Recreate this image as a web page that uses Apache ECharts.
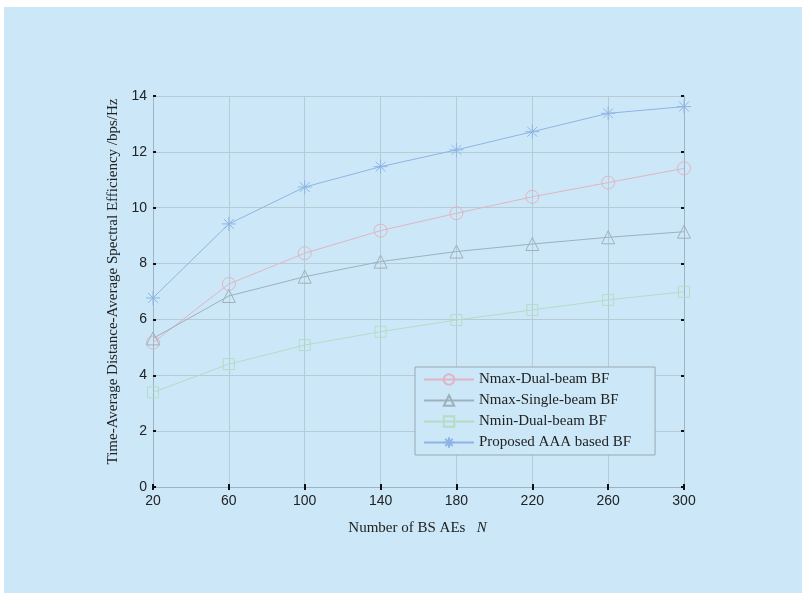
<!DOCTYPE html>
<html><head><meta charset="utf-8">
<script src="https://cdn.jsdelivr.net/npm/echarts@6/dist/echarts.min.js"></script>
<style>html,body{margin:0;padding:0;background:#fff}#c{width:802px;height:593px}</style>
</head><body><div id="c"></div>
<script>
var categories = ['20','60','100','140','180','220','260','300'];
var yTicks = [0,2,4,6,8,10,12,14];
var nmaxDual = [5.17, 7.27, 8.37, 9.18, 9.80, 10.39, 10.90, 11.41];
var nmaxSingle = [5.32, 6.84, 7.53, 8.07, 8.43, 8.70, 8.94, 9.14];
var nminDual = [3.39, 4.40, 5.08, 5.56, 5.98, 6.34, 6.70, 6.99];
var proposed = [6.77, 9.42, 10.74, 11.47, 12.07, 12.72, 13.38, 13.62];
var seriesNames = ['Nmax-Dual-beam BF','Nmax-Single-beam BF','Nmin-Dual-beam BF','Proposed AAA based BF'];

var bg = '#cce8f8';
var star = 'path://M0,-6L0,6M-6,0L6,0M-4.2,-4.2L4.2,4.2M-4.2,4.2L4.2,-4.2';
function mk(name, data, color, symbol, size){
  return {name:name, type:'line', data:data, symbol:symbol, symbolSize:size,
    showAllSymbol:true,
    lineStyle:{color:color, width:1},
    itemStyle:{color:'rgba(0,0,0,0)', borderColor:color, borderWidth:1},
    emphasis:{disabled:true}, animation:false, z:3};
}
var chart = echarts.init(document.getElementById('c'));
var tickStyle = {show:true, inside:true, length:3, lineStyle:{color:'#111', width:2}};
chart.setOption({
  backgroundColor:'#ffffff',
  animation:false,
  graphic:[{type:'rect', shape:{x:4, y:7, width:798, height:586}, style:{fill:bg}, z:-10, silent:true}],
  grid:{left:153, right:118, top:96, bottom:106, show:false},
  legend:{
    data:seriesNames, orient:'vertical', left:415, top:367,
    padding:[5,24,5,8], itemGap:6, itemWidth:50, itemHeight:13,
    backgroundColor:bg, borderColor:'#9aa8b0', borderWidth:1,
    textStyle:{fontFamily:'Liberation Serif', fontSize:15, color:'#222'}
  },
  xAxis:[{
    type:'category', data:categories, boundaryGap:false,
    axisLine:{show:true, lineStyle:{color:'#9fb4c0', width:1}},
    axisTick:tickStyle,
    axisLabel:{color:'#222', fontFamily:'Liberation Sans', fontSize:14, margin:7},
    splitLine:{show:true, lineStyle:{color:'#b5cbd6', width:1}},
    name:'Number of BS AEs   {i|N}', nameLocation:'middle', nameGap:34,
    nameTextStyle:{fontFamily:'Liberation Serif', fontSize:15, color:'#222', padding:[0,2,0,0],
      rich:{i:{fontFamily:'Liberation Serif', fontStyle:'italic', fontSize:15, color:'#222'}}}
  },{
    type:'category', data:categories, boundaryGap:false, position:'top',
    axisLine:{show:true, lineStyle:{color:'#9fb4c0', width:1}},
    axisTick:tickStyle, axisLabel:{show:false}, splitLine:{show:false}
  }],
  yAxis:[{
    type:'value', min:0, max:14, interval:2,
    axisLine:{show:true, lineStyle:{color:'#9fb4c0', width:1}},
    axisTick:tickStyle,
    axisLabel:{color:'#222', fontFamily:'Liberation Sans', fontSize:14, margin:6,
      formatter:function(v){return yTicks.indexOf(v)>=0 ? String(v) : '';}},
    splitLine:{show:true, lineStyle:{color:'#b5cbd6', width:1}},
    name:'Time-Average Distance-Average Spectral Efficiency /bps/Hz',
    nameLocation:'middle', nameGap:27,
    nameTextStyle:{fontFamily:'Liberation Serif', fontSize:15, color:'#222', padding:[0,0,0,20]}
  },{
    type:'value', min:0, max:14, interval:2, position:'right',
    axisLine:{show:true, lineStyle:{color:'#9fb4c0', width:1}},
    axisTick:tickStyle, axisLabel:{show:false}, splitLine:{show:false}
  }],
  series:[
    mk(seriesNames[0], nmaxDual, '#e0b4c4', 'circle', 13),
    mk(seriesNames[1], nmaxSingle, '#9fb0bd', 'triangle', 13),
    mk(seriesNames[2], nminDual, '#b4dcc4', 'rect', 11),
    mk(seriesNames[3], proposed, '#8fb4e4', star, 14)
  ]
});
</script></body></html>
